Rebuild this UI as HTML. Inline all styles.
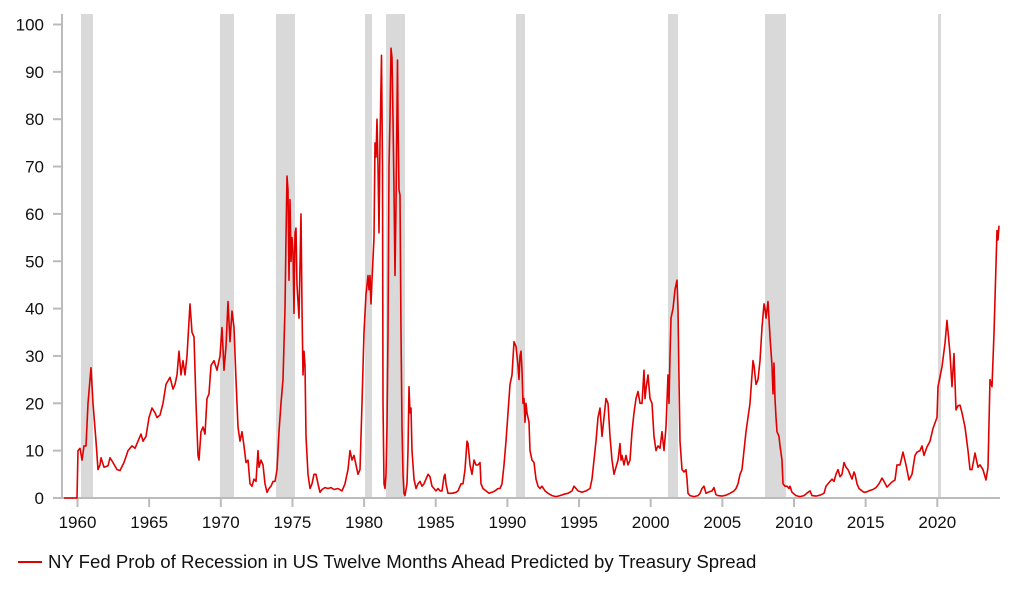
<!DOCTYPE html>
<html><head><meta charset="utf-8"><style>
body{margin:0;background:#fff;}
svg{display:block;font-family:"Liberation Sans",Arial,sans-serif;}
</style></head><body>
<svg id="s" width="1022" height="597" viewBox="0 0 1022 597">
<g fill="#d9d9d9">
<rect x="81" y="14" width="12" height="484"/>
<rect x="220" y="14" width="14" height="484"/>
<rect x="276" y="14" width="19" height="484"/>
<rect x="365" y="14" width="7" height="484"/>
<rect x="386" y="14" width="19" height="484"/>
<rect x="516" y="14" width="9" height="484"/>
<rect x="668" y="14" width="10" height="484"/>
<rect x="765" y="14" width="21" height="484"/>
<rect x="938" y="14" width="3" height="484"/>
</g>
<g id="ax" stroke="#bbb" stroke-width="2" fill="none"></g>
<g id="lab" font-size="17" fill="#111"></g>
<polyline id="ln" fill="none" stroke="#e00000" stroke-width="1.6" stroke-linejoin="round"/>
<line x1="18" y1="562" x2="42" y2="562" stroke="#e00000" stroke-width="2"/>
<text x="48" y="568" font-size="18.6" fill="#111">NY Fed Prob of Recession in US Twelve Months Ahead Predicted by Treasury Spread</text>
</svg>
<script>
var y0=498,k=4.735,ns="http://www.w3.org/2000/svg";
var ax=document.getElementById('ax'),lab=document.getElementById('lab');
function el(p,t,a,txt){var e=document.createElementNS(ns,t);for(var q in a)e.setAttribute(q,a[q]);if(txt)e.textContent=txt;p.appendChild(e);}
el(ax,'line',{x1:62,y1:14,x2:62,y2:499});
el(ax,'line',{x1:61,y1:498,x2:1000,y2:498});
for(var v=0;v<=100;v+=10){var y=y0-v*k;el(ax,'line',{x1:53,y1:y,x2:62,y2:y});el(lab,'text',{x:44,y:y+6,'text-anchor':'end'},''+v);}
for(var yr=1960;yr<=2020;yr+=5){var x=77.5+(yr-1960)*14.33;el(ax,'line',{x1:x,y1:498,x2:x,y2:507});el(lab,'text',{x:x,y:528,'text-anchor':'middle'},''+yr);}
var d=[64,0,77,0,78,10,80,10.5,82,8,84,11,86,11,88,20,91,27.5,93,20,96,12,98,6,100,7,101,8.5,104,6.5,108,6.8,110,8.5,113,7.5,117,6,120,5.8,124,7.5,128,10,132,11,135,10.5,138,12,141,13.5,143,12,146,13,149,17,152,19,155,18,157,17,160,17.5,163,20,166,24,170,25.5,173,23,175,24,177,26,179,31,181,26,183,29,185,26,187,30,190,41,192,35,194,34,196,20,198,9,199,8,201,14,203,15,205,13.5,207,21,209,22,211,28,214,29,217,27,220,30,222,36,224,27,226,32,228,41.5,230,33,232,39.5,234,36,236,25,238,15,240,12,242,14,244,11,246,7.5,248,8,250,3,252,2.5,254,4,256,3.5,258,10,259,6.5,261,8,263,7,265,3,267,1.2,269,2,271,2.5,273,3.5,275,3.5,277,6,279,14,281,20,283,25,285,40,286,55,287,68,288,65,289,46,290,63,291,50,292,55,293,52,294,39,295,56,296,57,297,45,299,38,301,60,302,40,303,26,304,31,305,28,306,13,308,5,310,2,312,3,314,5,316,5,318,3,320,1.2,322,1.8,325,2.2,328,2,331,2.2,334,1.8,338,2,342,1.5,345,3,348,6,350,10,352,8,354,9,356,7,358,5,360,6,362,20,364,35,366,43,368,47,369,44,370,47,371,41,372,46,374,55,375,75,376,72,377,80,378,70,379,56,380,75,381.5,93.5,382.5,70,383,20,384,3,385,2,386,5,387,15,388,35,389,70,390,80,391,95,392,93,393,80,394,65,395,47,396,62,397.5,92.5,398,80,399,65,400,64,401,35,402,15,403,5,404,1,405,0.5,407,3,408,10,409,23.5,410,18,411,19,412,10,414,4,416,2,418,3,420,3.5,422,2.5,424,3,426,4,428,5,430,4.5,432,2.5,434,2,436,1.5,438,2,440,1.5,442,1.5,444,4.5,445,5,446,3,448,1,452,1,456,1.2,458,1.5,461,3,463,3,465,6,467,12,468,11.5,470,7,472,5,474,8,476,7,478,7,480,7.5,481,3,483,2,486,1.5,489,1,492,1.2,495,1.5,498,2,500,2,502,3,504,7,506,12,508,18,510,24,512,26,514,33,516,32,518,28,519,25,520,30,521,31,522,27,523,20,524,21,525,16,526,20,527,18,529,16,530,10,532,8,534,7.5,536,4,538,2.5,540,2,542,2.5,545,1.5,548,1,552,0.5,556,0.3,560,0.5,564,0.8,568,1,572,1.5,574,2.5,576,2,578,1.5,582,1.2,586,1.5,590,2,592,4,594,8,596,12,598,17,600,19,602,13,604,17,606,21,608,20,610,13,612,8,614,5,616,6.5,618,8,620,11.5,621,8,622,9,624,7,626,9,628,7,630,8,632,14,634,18,636,21,638,22.5,640,20,642,20,644,27,645,21,646,23,648,26,650,21,652,20,654,13,656,10,658,11,660,10.5,662,14,664,10,666,15,668,26,669,20,670,30,671,38,673,40,675,44,677,46,678,40,679,25,680,12,682,6,684,5.5,686,6,687,4,688,1,690,0.5,694,0.3,698,0.5,700,1,702,2,704,2.5,706,1,708,1.2,712,1.5,714,2.2,716,0.7,718,0.5,722,0.4,726,0.6,730,1,734,1.5,736,2,738,3,740,5,742,6,744,10,746,14,748,17,750,20,752,26,753,29,754,28,756,24,758,25,760,29,762,36,764,41,765,40,766,38,768,41.5,770,34,772,28,773,22,774,28.5,775,21,776,17,777,14,779,13,780,11,782,8,783,3,785,2.5,787,2.5,789,2,790,2.5,792,1.2,796,0.5,800,0.3,804,0.5,808,1.2,810,1.5,812,0.5,816,0.4,820,0.6,824,1,826,2.5,828,3,830,3.5,832,4,834,3.5,836,5,838,6,840,4.5,842,5,844,7.5,846,6.5,848,6,850,5,852,4,854,5.5,855,5,857,3,859,2,862,1.5,864,1.2,867,1.3,870,1.6,873,1.8,876,2.2,879,3,882,4.2,884,3.5,887,2.3,892,3.4,895,3.8,897,7,900,7,903,9.7,906,7,909,3.8,912,5,915,9,917,9.7,920,10,922,11,924,9,927,10.8,930,12,933,14.7,937,17,938,23.5,942,27.7,945,32.7,947,37.5,950,30.5,952,23.5,954,30.5,956,18.6,958,19.5,960,19.6,962,18,965,15,968,10,970,6,972,6,975,9.5,978,6.5,980,7,983,6,986,3.8,988,6.5,990,25,992,23.5,994,34.8,997,56.5,998,54.5,999,57.5];
var p=[];for(var i=0;i<d.length;i+=2)p.push(d[i]+','+(y0-d[i+1]*k).toFixed(1));
document.getElementById('ln').setAttribute('points',p.join(' '));
</script>
</body></html>
